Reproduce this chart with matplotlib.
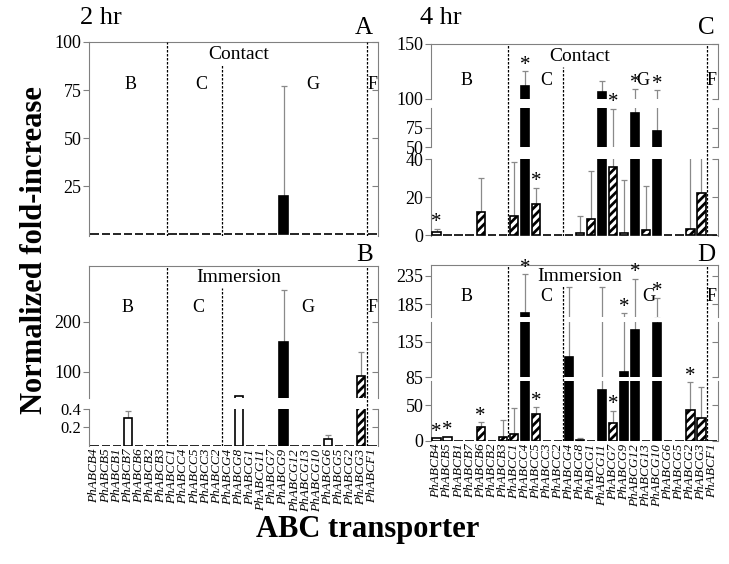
import numpy as np
import matplotlib.pyplot as plt

plt.rcParams['font.family'] = ['Liberation Serif', 'DejaVu Serif']
plt.rcParams['hatch.linewidth'] = 2.0
plt.rcParams['hatch.color'] = 'black'

genes = ['PhABCB4', 'PhABCB5', 'PhABCB1', 'PhABCB7', 'PhABCB6', 'PhABCB2', 'PhABCB3',
         'PhABCC1', 'PhABCC4', 'PhABCC5', 'PhABCC3', 'PhABCC2',
         'PhABCG4', 'PhABCG8', 'PhABCG1', 'PhABCG11', 'PhABCG7', 'PhABCG9', 'PhABCG12',
         'PhABCG13', 'PhABCG10', 'PhABCG6', 'PhABCG5', 'PhABCG2', 'PhABCG3', 'PhABCF1']
subfamilies = ['B', 'C', 'G', 'F']

# bar fill: w = open, k = black, h = hatched ; *_err = top of the error bar
contact_2h     = [0, 0, 0, 0, 0, 0, 0, 0, 0, 0, 0, 0, 0, 0, 0, 0, 0, 20, 0, 0, 0, 0, 0, 0, 0, 0]
contact_2h_err = [0, 0, 0, 0, 0, 0, 0, 0, 0, 0, 0, 0, 0, 0, 0, 0, 0, 77, 0, 0, 0, 0, 0, 0, 0, 0]
contact_2h_sty = 'wwwwwwwwwwwwwwwwwkwwwwwwww'
contact_2h_sig = []

immersion_2h     = [0, 0, 0, 0.30, 0, 0, 0, 0, 0, 0, 0, 0, 0, 52, 0, 0, 0, 160, 0, 0, 0, 0.07, 0, 0, 92, 0]
immersion_2h_err = [0, 0, 0, 0.38, 0, 0, 0, 0, 0, 0, 0, 0, 0, 0, 0, 0, 0, 264, 0, 0, 0, 0.12, 0, 0, 140, 0]
immersion_2h_sty = 'wwwwwwwwwwwwwwwwwkwwwwwwhw'
immersion_2h_sig = []

contact_4h     = [2, 0, 0, 0, 12.5, 0, 0, 10.4, 112, 16.6, 0, 0, 0, 1, 8.8, 106, 35.8, 1, 94, 2.6, 70, 0, 0, 3.1, 22.3, 0]
contact_4h_err = [3.6, 0, 0, 0, 30, 0, 0, 38.5, 125.5, 25, 0, 0, 0, 10.4, 33.8, 116, 99, 29, 109, 26, 108, 0, 0, 45, 45, 0]
contact_4h_sty = 'wwwwhwwhkhwwwwhkhwkhkwwhhw'
contact_4h_sig = [0, 8, 9, 16, 18, 20]

immersion_4h     = [3, 5.5, 0, 0, 19.5, 0, 5.5, 9.7, 170, 37.5, 0, 0, 113.5, 1, 0, 71, 25, 92, 152, 0, 161, 0, 0, 43, 32, 0]
immersion_4h_err = [0, 0, 0, 0, 26, 0, 29, 46, 238, 47, 0, 0, 216, 4, 0, 215, 42, 170, 230, 0, 197, 0, 0, 82, 75, 0]
immersion_4h_sty = 'wwwwhwhhkhwwkwwkhkkwkwwhhw'
immersion_4h_sig = [0, 1, 4, 8, 9, 16, 17, 18, 20, 23]

W, H = 729, 564
GRAY = '#808080'
fig = plt.figure(figsize=(W / 100, H / 100), dpi=100)
x = np.arange(len(genes))


def px_axes(x0, x1, ytop, ybot):
    ax = fig.add_axes([x0 / W, 1 - ybot / H, (x1 - x0) / W, (ybot - ytop) / H])
    ax.patch.set_visible(False)
    return ax


def panel(x0, x1, segs, vals, errs, sty, sig, cond, group_x, group_y, show_genes):
    vals = np.array(vals, float)
    errs = np.array(errs, float)
    axes = []
    for k, (lo, hi, ytop, ybot, ticks, tfs) in enumerate(segs):
        ax = px_axes(x0, x1, ytop, ybot)
        bars = ax.bar(x, vals, width=0.75, linewidth=1.2, edgecolor='black', zorder=3,
                      color=['black' if s == 'k' else 'white' for s in sty])
        for b, s in zip(bars, sty):
            if s == 'h':
                b.set_hatch('////')
        m = errs > vals
        ax.errorbar(x[m], vals[m], yerr=[np.zeros(m.sum()), errs[m] - vals[m]], fmt='none',
                    ecolor='#8a8a8a', elinewidth=0.9, capsize=2.5, capthick=0.9, zorder=2)
        pad = (hi - lo) * 0.008 if k == 0 else 0
        ax.set_ylim(lo - pad, hi)
        ax.set_xlim(-0.5, len(genes) - 0.5)
        for side in ['bottom', 'right']:
            ax.spines[side].set_visible(False)
        ax.spines['top'].set_visible(k == len(segs) - 1)
        ax.spines['top'].set_color(GRAY)
        ax.spines['left'].set_color(GRAY)
        ax.set_yticks(ticks, [('%g' % t) for t in ticks], fontsize=tfs)
        ax.tick_params(axis='y', direction='out', length=4, width=0.8, color=GRAY, pad=1.5)
        sec = ax.secondary_yaxis('right')
        sec.set_yticks(ticks)
        sec.tick_params(direction='in', length=4, width=0.8, color=GRAY, labelright=False)
        sec.spines['right'].set_color(GRAY)
        if show_genes and k == 0:
            ax.set_xticks(x, genes, rotation=90, fontsize=9.5, style='italic')
            ax.tick_params(axis='x', length=0, pad=2)
        else:
            ax.set_xticks([])
        axes.append((lo, hi, ax))

    for i in sig:
        y = max(vals[i], errs[i])
        tgt = axes[0][2]
        for lo, hi, ax in axes:
            if y >= lo:
                tgt = ax
        tgt.annotate('*', xy=(i, y), xytext=(0, 1), textcoords='offset points',
                     ha='center', va='baseline', fontsize=15, annotation_clip=False,
                     zorder=10)

    ov = px_axes(x0, x1, segs[-1][2], segs[0][3])
    ov.set_xlim(-0.5, len(genes) - 0.5)
    ov.set_ylim(0, 1)
    ov.axis('off')
    ov.vlines([6.5, 24.5], 0, 1, colors='black', linestyles=(0, (2, 1.2)), linewidth=0.9)
    ov.vlines(11.5, 0, 0.88, colors='black', linestyles=(0, (2, 1.2)), linewidth=0.9)
    for g, gx in zip(subfamilies, group_x):
        ov.text(gx, group_y, g, ha='center', va='center', fontsize=13)
    ov.text(13.0, 0.935, cond, ha='center', va='center', fontsize=14)


left = (89, 378)
right = (431, 718)

panel(*left, [(0, 100, 42, 236, [25, 50, 75, 100], 13)],
      contact_2h, contact_2h_err, contact_2h_sty, contact_2h_sig,
      'Contact', [3.2, 9.6, 19.6, 25.0], 0.78, False)

panel(*left, [(0, 0.4, 409, 446, [0.2, 0.4], 12), (48, 312, 266, 398, [100, 200], 13)],
      immersion_2h, immersion_2h_err, immersion_2h_sty, immersion_2h_sig,
      'Immersion', [3.0, 9.3, 19.2, 25.0], 0.77, True)

panel(*right, [(0, 40, 159, 236, [0, 20, 40], 13), (50, 100, 108, 147, [50, 75], 13),
               (100, 150, 44, 99, [100, 150], 13)],
      contact_4h, contact_4h_err, contact_4h_sty, contact_4h_sig,
      'Contact', [2.7, 9.9, 18.7, 24.9], 0.81, False)

panel(*right, [(0, 84, 381, 441, [0, 50], 13), (85, 163, 322, 377, [85, 135], 13),
               (163, 254, 265, 317, [185, 235], 13)],
      immersion_4h, immersion_4h_err, immersion_4h_sty, immersion_4h_sig,
      'Immersion', [2.7, 9.9, 19.2, 24.9], 0.82, True)

fig.text(80 / W, 1 - 18 / H, '2 hr', fontsize=19, ha='left', va='center')
fig.text(420 / W, 1 - 18 / H, '4 hr', fontsize=19, ha='left', va='center')
for lab, px, py in [('A', 373, 28), ('B', 373, 255), ('C', 715, 28), ('D', 715, 255)]:
    fig.text(px / W, 1 - py / H, lab, fontsize=18, ha='right', va='center')

fig.text(35 / W, 1 - 250 / H, 'Normalized fold-increase', rotation=90, fontsize=22,
         fontweight='bold', ha='center', va='center')
fig.text(368 / W, 1 - 530 / H, 'ABC transporter', fontsize=22, fontweight='bold',
         ha='center', va='center')

fig.savefig('out.png', dpi=100)
